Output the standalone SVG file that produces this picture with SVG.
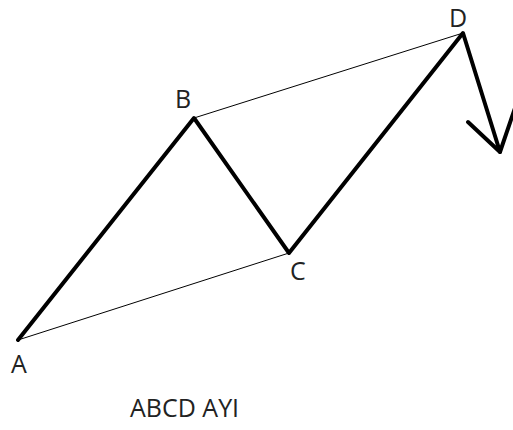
<svg xmlns="http://www.w3.org/2000/svg" width="513" height="430" viewBox="0 0 513 430">
<style>
.thick{stroke:#000;stroke-width:4;fill:none;stroke-linecap:round;stroke-linejoin:round}
.thin{stroke:#000;stroke-width:1;fill:none}
.lbl{font-family:"Open Sans","Liberation Sans",sans-serif;font-size:25px;fill:#222}
</style>
<rect width="513" height="430" fill="#fff"/>
<g id="connectors">
<polyline class="thick" points="18,340 194,118 289,253 463,33 500,152"/>
<polyline class="thick" points="468,122 500,152 515,108"/>
<line class="thin" x1="18" y1="340" x2="289" y2="253"/>
<line class="thin" x1="194" y1="118" x2="463" y2="33"/>
</g>
<g id="A"><text class="lbl" x="11" y="373">A</text></g>
<g id="B"><text class="lbl" x="175" y="108">B</text></g>
<g id="C"><text class="lbl" x="290" y="280">C</text></g>
<g id="D"><text class="lbl" x="449" y="27" font-size="23">D</text></g>
<g id="title"><text class="lbl" x="130" y="417" font-size="26">ABCD AYI</text></g>
</svg>
